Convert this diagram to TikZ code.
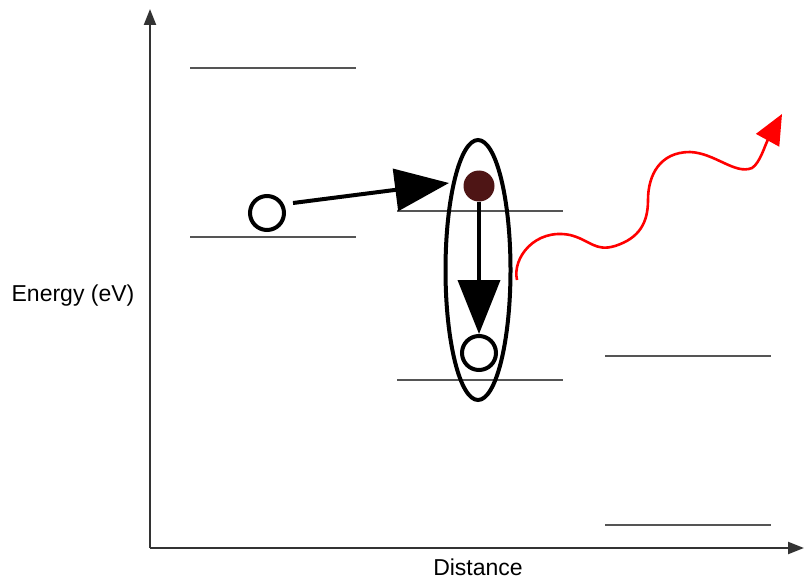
\documentclass[tikz,border=0pt]{standalone}
\usepackage{fontspec}
\setmainfont{Liberation Sans}
\usetikzlibrary{arrows.meta,shapes.geometric}
\definecolor{levelgray}{HTML}{555555}
\definecolor{electron}{HTML}{4E1515}
\tikzset{
  level/.style={draw=levelgray, line width=2.2pt},
  axis/.style={draw=black!80, line width=2.2pt, -{Triangle[length=16pt,width=12pt]}},
  hole/.style={circle, draw=black, line width=4pt, fill=white, minimum size=34pt, inner sep=0pt},
  elec/.style={circle, fill=electron, minimum size=31pt, inner sep=0pt},
  bigarrow/.style={draw=black, line width=4pt, -{Triangle[length=54pt,width=42pt]}},
  lbl/.style={font=\fontsize{23pt}{26pt}\selectfont, inner sep=0pt},
}
\begin{document}
\begin{tikzpicture}[x=1pt,y=-1pt]
\useasboundingbox (0,0) rectangle (805,580);
% axes
\coordinate (o) at (150,548);
\coordinate (ytop) at (150,9);
\coordinate (xend) at (804,548);
\draw[axis] (o) -- (ytop);
\draw[axis] (o) -- (xend);
\node[lbl] (ylab) at (73,296) {Energy (eV)};
\node[lbl] (xlab) at (478,567) {Distance};
% levels
\coordinate (a1) at (190,68); \coordinate (a2) at (356,68);
\coordinate (b1) at (190,237); \coordinate (b2) at (356,237);
\coordinate (c1) at (397,211); \coordinate (c2) at (563,211);
\coordinate (d1) at (397,380); \coordinate (d2) at (563,380);
\coordinate (e1) at (605,356); \coordinate (e2) at (771,356);
\coordinate (f1) at (605,525); \coordinate (f2) at (771,525);
\draw[level] (a1) -- (a2);
\draw[level] (b1) -- (b2);
\draw[level] (c1) -- (c2);
\draw[level] (d1) -- (d2);
\draw[level] (e1) -- (e2);
\draw[level] (f1) -- (f2);
% exciton ellipse
\node[ellipse, draw=black, line width=4pt, minimum width=65pt, minimum height=260pt, inner sep=0pt] (exc) at (478,270) {};
% particles
\node[hole] (h1) at (267,213) {};
\node[elec] (e) at (479,186) {};
\node[hole] (h2) at (479,353) {};
% transfer arrow
\coordinate (t0) at (293,203);
\coordinate (t1) at (449,183);
\draw[bigarrow] (t0) -- (t1);
% relaxation arrow
\coordinate (r1) at (479,334);
\draw[bigarrow] (e.south) -- (r1);
% emitted photon
\coordinate (p0) at (517,280);
\coordinate (p1) at (782,114);
\draw[red, line width=2.6pt, -{Triangle[length=30pt,width=26pt]}]
  (p0) .. controls (512,258) and (535,228) .. (570,235)
       .. controls (590,240) and (595,252) .. (615,246)
       .. controls (640,238) and (648,222) .. (648,200)
       .. controls (648,175) and (660,152) .. (690,152)
       .. controls (715,153) and (735,175) .. (752,168)
       .. controls (760,163) and (765,145) .. (p1);
\end{tikzpicture}
\end{document}
